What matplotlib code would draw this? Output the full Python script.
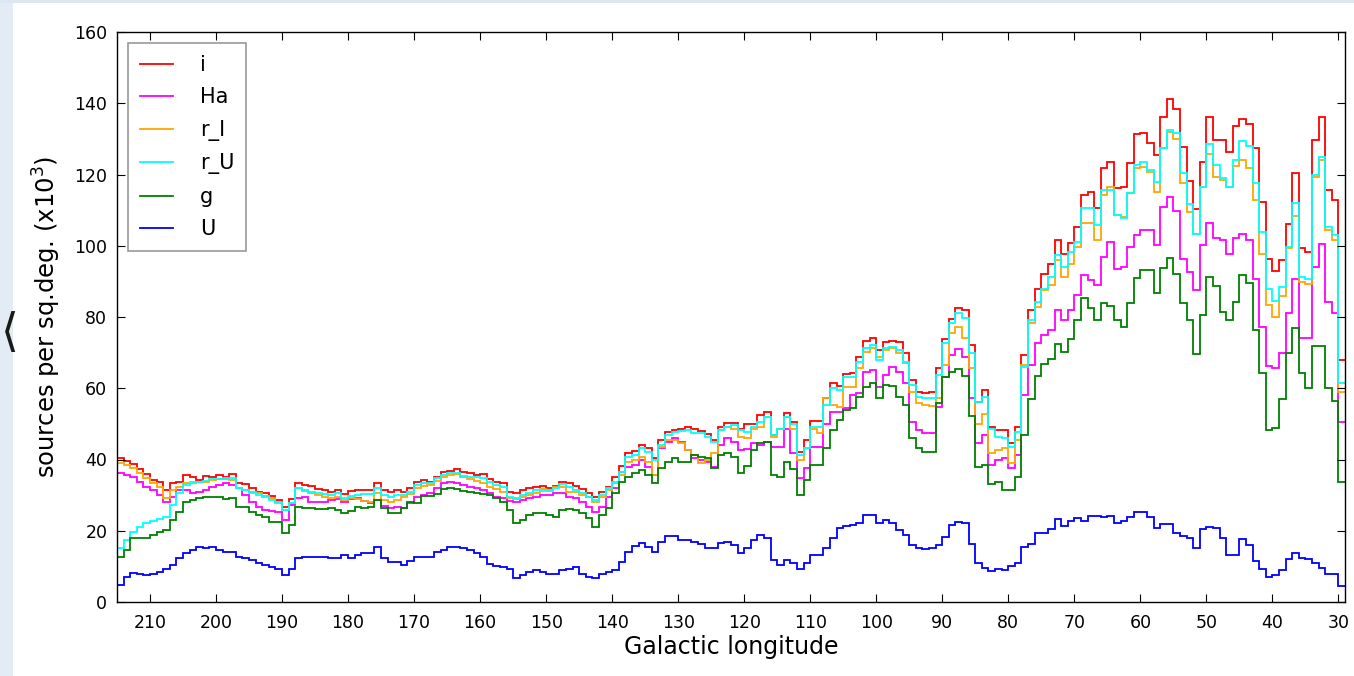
import numpy as np
import matplotlib
matplotlib.use('Agg')
import matplotlib.pyplot as plt
from matplotlib.patches import Rectangle

# 1-degree bins in galactic longitude, listed from l=215 (left) down to l=29 (right)
lon_high = 215
lon_low = 29

i_band = [
    40.3, 39.7, 38.7, 37.2, 35.8, 34.2, 33.8, 31.4, 33.3, 33.8,
    35.6, 35.2, 34.2, 35.4, 35.2, 35.6, 35.0, 35.9, 33.3, 33.1,
    31.9, 31.0, 30.5, 29.7, 28.6, 26.8, 28.8, 33.3, 32.8, 32.6,
    31.6, 31.4, 31.0, 31.4, 30.2, 31.2, 31.4, 31.4, 31.4, 33.3,
    31.4, 30.8, 31.4, 31.0, 31.9, 33.8, 34.2, 33.8, 35.2, 36.4,
    36.8, 37.3, 36.4, 36.1, 35.6, 35.9, 34.4, 33.8, 33.3, 31.0,
    30.7, 31.4, 31.9, 32.4, 32.6, 32.1, 32.6, 33.8, 33.5, 32.6,
    31.6, 30.7, 29.6, 31.0, 32.4, 35.0, 38.2, 41.7, 42.5, 44.1,
    43.1, 40.3, 45.5, 47.8, 48.3, 48.5, 49.2, 48.7, 48.1, 47.1,
    45.5, 49.2, 50.3, 50.3, 48.7, 50.1, 50.1, 52.5, 53.4, 46.9,
    48.7, 53.1, 50.6, 42.2, 45.5, 50.9, 50.9, 57.2, 61.4, 60.6,
    63.9, 64.2, 68.8, 73.2, 74.0, 70.7, 73.1, 73.2, 73.1, 69.8,
    62.3, 59.0, 58.6, 59.0, 65.6, 73.7, 79.3, 82.4, 81.9, 72.1,
    56.2, 59.5, 49.2, 48.3, 48.3, 44.5, 49.2, 69.3, 81.9, 88.0,
    92.2, 95.0, 101.6, 97.8, 100.8, 105.3, 114.2, 115.2, 110.5, 121.7,
    123.6, 116.1, 116.6, 123.1, 131.5, 131.7, 128.9, 125.4, 136.2, 141.1,
    138.5, 127.8, 118.2, 110.2, 123.6, 136.2, 129.7, 129.8, 126.4, 133.6,
    135.7, 134.3, 127.3, 112.3, 96.4, 93.0, 96.0, 106.1, 120.5, 99.3,
    98.3, 129.8, 136.2, 115.6, 112.8, 67.9,
]

ha_band = [
    36.1, 35.6, 35.0, 33.8, 32.4, 31.4, 30.0, 28.2, 29.6, 31.4,
    31.4, 30.5, 31.0, 31.4, 32.4, 32.8, 33.3, 32.8, 31.9, 30.0,
    28.2, 26.8, 25.8, 25.5, 25.4, 23.0, 27.3, 29.1, 29.4, 28.2,
    28.2, 28.2, 28.6, 28.8, 28.2, 28.8, 29.1, 28.4, 27.9, 28.6,
    26.9, 26.3, 26.8, 26.3, 27.7, 29.6, 30.0, 30.5, 31.9, 33.3,
    33.8, 33.5, 32.8, 32.4, 31.9, 31.4, 30.5, 29.6, 29.1, 28.4,
    28.2, 28.6, 29.1, 29.6, 30.0, 30.0, 30.5, 30.5, 29.6, 29.1,
    28.2, 26.8, 25.4, 26.8, 29.6, 31.9, 36.5, 37.9, 38.4, 39.8,
    37.9, 35.6, 43.1, 45.0, 45.9, 45.0, 42.7, 40.3, 39.8, 39.4,
    37.9, 44.0, 45.9, 45.0, 42.8, 43.0, 44.5, 44.1, 45.0, 43.6,
    43.6, 48.7, 41.7, 34.7, 37.5, 43.6, 43.6, 50.1, 53.4, 53.4,
    54.4, 58.1, 58.6, 64.6, 65.1, 60.4, 63.7, 66.0, 64.6, 61.4,
    50.6, 48.3, 47.3, 47.3, 54.8, 63.2, 69.3, 71.0, 68.8, 57.2,
    44.5, 46.9, 38.4, 39.9, 40.3, 37.5, 41.3, 58.1, 66.5, 72.6,
    74.9, 76.3, 81.9, 79.1, 81.9, 86.2, 91.8, 90.4, 89.0, 96.9,
    101.1, 93.6, 94.1, 99.7, 103.0, 104.3, 104.4, 100.2, 110.9, 113.6,
    109.8, 96.4, 92.7, 87.7, 100.2, 106.5, 102.1, 101.6, 97.7, 102.1,
    103.3, 101.6, 90.6, 77.3, 66.2, 65.6, 70.0, 81.0, 90.8, 74.0,
    74.0, 94.1, 100.5, 84.3, 81.0, 50.6,
]

r_i_band = [
    39.1, 38.4, 37.5, 36.1, 34.7, 33.3, 32.4, 29.1, 31.4, 32.4,
    33.5, 33.5, 33.8, 33.8, 34.2, 34.4, 34.4, 34.2, 31.9, 31.4,
    31.0, 30.5, 29.7, 29.1, 28.2, 25.8, 27.7, 31.9, 31.2, 30.7,
    30.0, 29.6, 29.1, 29.4, 28.6, 29.1, 28.8, 28.4, 28.2, 30.5,
    28.6, 28.2, 28.6, 29.4, 30.3, 31.9, 32.6, 32.8, 34.0, 35.2,
    35.6, 35.9, 35.2, 34.4, 34.0, 33.5, 32.4, 31.7, 31.0, 29.1,
    28.8, 29.4, 30.0, 30.5, 31.6, 31.4, 32.2, 32.4, 31.0, 31.0,
    30.0, 29.6, 28.2, 29.6, 31.4, 33.3, 35.6, 39.4, 39.9, 40.8,
    39.4, 35.6, 43.6, 45.5, 45.6, 44.5, 42.7, 41.3, 38.9, 39.9,
    41.7, 48.3, 49.2, 48.7, 46.4, 45.9, 48.7, 49.2, 52.0, 46.4,
    48.7, 52.0, 48.7, 39.9, 43.1, 48.7, 47.3, 57.2, 55.3, 54.8,
    60.4, 60.4, 65.6, 70.3, 71.2, 68.8, 70.7, 71.2, 69.8, 67.0,
    59.0, 55.8, 55.3, 55.0, 57.2, 66.5, 75.5, 77.3, 74.0, 65.6,
    50.1, 52.9, 41.7, 42.6, 43.1, 38.9, 45.5, 66.5, 78.2, 82.9,
    87.6, 89.0, 96.0, 91.3, 95.0, 99.7, 106.3, 106.3, 101.6, 114.2,
    116.6, 108.6, 108.1, 114.7, 121.7, 122.0, 120.8, 115.2, 127.3, 132.0,
    130.1, 117.5, 109.5, 103.3, 116.6, 125.7, 119.2, 118.4, 116.6, 122.4,
    124.0, 121.7, 112.8, 97.8, 83.3, 79.9, 85.9, 99.3, 108.3, 89.9,
    89.4, 119.4, 124.0, 104.4, 101.6, 59.0,
]

r_u_band = [
    15.1, 17.4, 19.7, 21.0, 22.1, 22.7, 23.2, 23.8, 27.2, 30.5,
    32.8, 33.8, 33.8, 34.1, 34.4, 34.4, 34.7, 34.7, 31.9, 31.4,
    30.7, 30.0, 29.4, 28.6, 27.9, 25.8, 27.7, 31.9, 31.4, 31.0,
    30.5, 30.3, 30.0, 30.5, 29.1, 29.7, 30.0, 30.3, 30.3, 31.9,
    30.0, 29.4, 30.0, 30.0, 31.0, 32.8, 33.3, 33.3, 34.7, 35.6,
    36.1, 36.1, 35.4, 35.0, 35.0, 34.7, 33.8, 32.8, 32.4, 29.6,
    29.1, 30.0, 30.5, 31.4, 31.2, 31.2, 31.9, 33.1, 32.4, 31.4,
    30.7, 29.6, 28.6, 30.0, 31.9, 33.8, 36.6, 40.8, 41.3, 43.1,
    42.2, 39.9, 44.1, 46.9, 47.8, 48.1, 48.3, 47.5, 47.3, 46.4,
    45.0, 48.3, 49.2, 49.7, 48.3, 47.8, 49.2, 50.6, 52.0, 46.9,
    48.7, 52.0, 50.1, 41.3, 43.1, 49.2, 49.2, 55.3, 60.0, 59.5,
    63.2, 63.2, 67.4, 71.2, 72.1, 67.9, 71.2, 71.7, 70.7, 67.4,
    60.9, 57.6, 57.2, 57.2, 63.7, 72.6, 78.2, 81.0, 79.6, 69.8,
    56.2, 57.6, 48.7, 46.4, 45.9, 43.6, 47.8, 66.0, 79.1, 84.3,
    88.0, 91.3, 97.4, 94.1, 98.3, 101.1, 110.5, 110.5, 105.8, 115.6,
    115.6, 108.6, 107.7, 114.7, 122.6, 123.6, 121.2, 118.0, 127.3, 132.6,
    131.7, 120.5, 111.7, 103.3, 116.6, 128.5, 122.6, 118.9, 116.6, 124.0,
    129.5, 128.0, 117.5, 103.9, 88.0, 84.6, 88.5, 99.7, 112.1, 91.3,
    90.8, 119.8, 124.8, 105.3, 103.0, 61.4,
]

g_band = [
    12.7, 14.6, 17.9, 18.1, 17.9, 18.8, 19.7, 20.2, 23.0, 25.4,
    28.2, 28.6, 29.1, 29.4, 29.6, 29.4, 28.8, 29.1, 26.8, 26.8,
    25.4, 24.4, 23.8, 22.5, 22.5, 19.5, 21.6, 26.8, 26.5, 26.3,
    26.0, 26.0, 26.3, 25.8, 25.1, 25.6, 26.8, 26.5, 26.8, 28.6,
    26.3, 25.1, 25.1, 26.3, 28.2, 27.9, 29.7, 29.7, 30.3, 31.6,
    31.9, 31.6, 31.2, 31.0, 30.7, 30.2, 30.0, 29.1, 28.2, 25.8,
    22.1, 23.0, 24.4, 25.1, 24.9, 24.4, 23.9, 25.8, 26.0, 25.8,
    24.9, 23.5, 21.1, 24.4, 26.3, 30.5, 33.8, 35.0, 36.1, 37.0,
    35.6, 33.3, 37.5, 39.4, 40.3, 39.4, 39.4, 41.3, 40.8, 40.3,
    37.5, 41.3, 41.9, 40.8, 36.1, 38.2, 42.7, 44.5, 45.0, 35.6,
    35.2, 39.4, 37.2, 30.0, 34.2, 38.4, 38.4, 43.1, 48.3, 51.1,
    53.9, 54.4, 57.6, 60.4, 61.4, 57.2, 60.9, 60.6, 57.6, 55.3,
    45.9, 43.1, 42.2, 42.2, 55.8, 63.2, 64.5, 65.5, 63.5, 52.1,
    37.9, 38.4, 33.2, 33.7, 31.3, 31.3, 35.1, 46.9, 56.9, 63.5,
    66.8, 68.2, 72.5, 70.1, 73.9, 79.1, 85.3, 82.4, 79.1, 83.9,
    83.1, 79.1, 77.2, 83.9, 90.9, 93.1, 93.3, 86.7, 93.8, 96.6,
    92.1, 83.9, 79.1, 69.7, 80.5, 91.1, 88.8, 81.4, 79.1, 84.2,
    91.8, 89.5, 76.3, 64.4, 48.4, 48.9, 56.9, 69.9, 76.8, 64.4,
    60.2, 72.0, 72.0, 60.2, 56.4, 33.7,
]

u_band = [
    4.8, 7.1, 8.2, 8.0, 7.6, 8.0, 8.5, 9.4, 10.4, 12.3,
    13.7, 14.6, 15.3, 15.1, 15.3, 14.6, 14.1, 13.9, 12.7, 12.3,
    11.8, 10.9, 10.4, 9.9, 9.4, 7.6, 9.4, 12.3, 12.5, 12.7,
    12.5, 12.5, 12.3, 12.3, 13.2, 12.3, 13.2, 13.7, 13.7, 15.3,
    12.3, 11.3, 11.3, 10.4, 11.6, 12.7, 12.7, 12.5, 14.1, 14.6,
    15.5, 15.3, 15.1, 14.6, 13.7, 12.7, 10.7, 10.1, 9.7, 9.4,
    6.6, 7.6, 8.5, 9.0, 8.5, 8.0, 8.0, 9.0, 9.2, 9.7,
    8.0, 7.1, 6.6, 7.8, 8.3, 9.0, 11.3, 14.0, 15.7, 16.5,
    15.5, 14.0, 16.9, 18.5, 18.5, 17.4, 17.4, 16.9, 16.3, 15.1,
    15.1, 16.7, 16.9, 16.0, 13.7, 15.1, 17.4, 18.8, 17.9, 11.8,
    10.4, 11.8, 10.9, 9.4, 10.9, 13.2, 13.2, 15.1, 17.9, 20.7,
    21.3, 21.6, 22.1, 24.4, 24.4, 22.1, 23.0, 22.1, 20.2, 18.8,
    16.0, 15.1, 14.8, 15.1, 16.0, 18.3, 21.5, 22.5, 22.3, 16.2,
    11.0, 9.6, 8.6, 9.4, 9.1, 10.0, 11.0, 15.4, 16.4, 19.5,
    19.5, 20.6, 23.3, 21.4, 22.8, 23.6, 22.6, 24.2, 24.1, 23.8,
    24.2, 22.3, 22.6, 23.8, 25.2, 25.2, 23.9, 20.9, 21.9, 22.0,
    19.5, 18.5, 18.1, 15.2, 20.4, 21.1, 20.7, 17.9, 13.2, 13.2,
    17.6, 16.0, 11.5, 9.4, 6.9, 7.7, 9.1, 12.2, 13.8, 12.4,
    12.2, 11.0, 9.6, 7.9, 7.9, 4.6,
]

labels = ['i', 'Ha', 'r_I', 'r_U', 'g', 'U']
colors = ['red', 'magenta', 'orange', 'cyan', 'green', 'blue']
bands = [i_band, ha_band, r_i_band, r_u_band, g_band, u_band]

xticks = list(range(210, 29, -10))
yticks = list(range(0, 161, 20))

fig = plt.figure(figsize=(13.54, 6.76), dpi=100)
fig.patch.set_facecolor('white')

# light slide background strips (left and top), plus the slide's nav arrow
fig.patches.append(Rectangle((0, 0), 13 / 1354, 1, transform=fig.transFigure,
                             facecolor='#e3ebf5', edgecolor='none', zorder=0))
fig.patches.append(Rectangle((0, 1 - 3 / 676), 1, 3 / 676, transform=fig.transFigure,
                             facecolor='#dde7f2', edgecolor='none', zorder=0))
fig.text(0.0005, 1 - 333 / 676, '\u27e8', fontsize=33, color='#1a1a1a',
         ha='left', va='center', family='DejaVu Sans')

ax = fig.add_axes([117 / 1354, 1 - 602 / 676, (1345 - 117) / 1354, (602 - 32) / 676])

# bin edges ascending so stairs is happy; the axis is flipped afterwards
edges = np.arange(lon_low, lon_high + 1)
for lab, col, vals in zip(labels, colors, bands):
    ax.stairs(np.array(vals)[::-1], edges, color=col, lw=1.3, label=lab, baseline=None)

ax.set_xlim(lon_high, lon_low)
ax.set_ylim(0, 160)
ax.set_xticks(xticks)
ax.set_yticks(yticks)
ax.tick_params(direction='in', top=True, right=True, length=6, width=0.8,
               labelsize=12.5, colors='black')
ax.tick_params(axis='x', pad=9)
ax.tick_params(axis='y', pad=7)
for s in ax.spines.values():
    s.set_linewidth(1.0)

ax.set_xlabel('Galactic longitude', fontsize=17, labelpad=2)
ax.set_ylabel('sources per sq.deg. (x10$^3$)', fontsize=17.5, labelpad=8)

leg = ax.legend(loc='upper left', fontsize=15, handlelength=1.6, handletextpad=1.3,
                labelspacing=0.6, borderaxespad=0.55, borderpad=0.55,
                fancybox=False, framealpha=1)
leg.get_frame().set_edgecolor('#999999')
leg.get_frame().set_linewidth(1.2)

fig.savefig('out.png', dpi=100, facecolor=fig.get_facecolor())
